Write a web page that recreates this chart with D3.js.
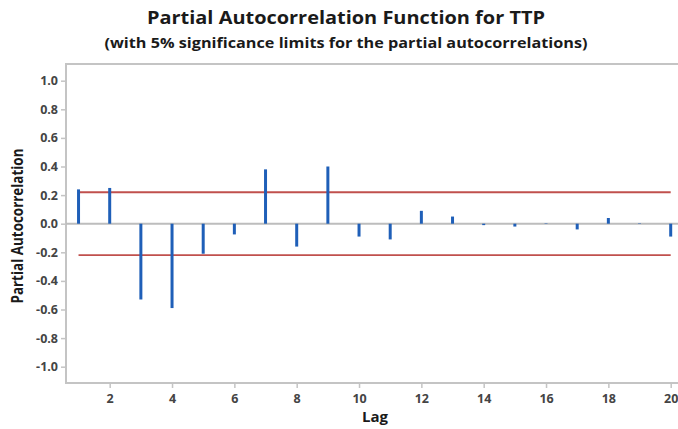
<!DOCTYPE html>
<html>
<head>
<meta charset="utf-8">
<script src="https://cdn.jsdelivr.net/npm/d3@7"></script>
<style>
  html, body { margin: 0; padding: 0; background: #fff; }
  svg { display: block; font-family: "Open Sans", "Noto Sans", sans-serif; }
</style>
</head>
<body>
<svg id="chart" width="678" height="429"></svg>
<script>
// Partial autocorrelations by lag
const lags = d3.range(1, 21);
const pacf = [0.24, 0.25, -0.53, -0.59, -0.21, -0.075, 0.38, -0.16, 0.40, -0.09,
              -0.11, 0.09, 0.05, -0.01, -0.02, 0.003, -0.04, 0.04, 0.003, -0.09];
const limit = 0.22;
const yTicks = [1.0, 0.8, 0.6, 0.4, 0.2, 0.0, -0.2, -0.4, -0.6, -0.8, -1.0];
const xTicks = [2, 4, 6, 8, 10, 12, 14, 16, 18, 20];

const svg = d3.select("#chart");
const frame = { left: 66, top: 64, right: 690, bottom: 383 };

const x = d3.scaleLinear().domain([2, 20]).range([109.7, 670.7]);
const y = d3.scaleLinear().domain([-1, 1]).range([366.7, 80.7]);

// Titles
svg.append("text")
  .attr("x", 346).attr("y", 24)
  .attr("text-anchor", "middle")
  .attr("font-size", 17.5).attr("font-weight", 700).attr("fill", "#1a1a1a")
  .attr("textLength", 398).attr("lengthAdjust", "spacingAndGlyphs")
  .text("Partial Autocorrelation Function for TTP");
svg.append("text")
  .attr("x", 346).attr("y", 48)
  .attr("text-anchor", "middle")
  .attr("font-size", 13.5).attr("font-weight", 700).attr("fill", "#1a1a1a")
  .attr("textLength", 483).attr("lengthAdjust", "spacingAndGlyphs")
  .text("(with 5% significance limits for the partial autocorrelations)");

// Plot frame
const frameColor = "#c4c4c4";
svg.append("rect")
  .attr("x", frame.left).attr("y", frame.top)
  .attr("width", frame.right - frame.left).attr("height", frame.bottom - frame.top)
  .attr("fill", "none").attr("stroke", frameColor).attr("stroke-width", 2);

// Y axis ticks
const yAxis = d3.axisLeft(y).tickValues(yTicks).tickFormat(d3.format(".1f")).tickSize(5).tickPadding(3);
const gy = svg.append("g").attr("transform", `translate(${frame.left},0)`).call(yAxis);
gy.select(".domain").remove();
gy.selectAll(".tick line").attr("stroke", frameColor).attr("stroke-width", 1.5);
gy.selectAll(".tick text")
  .attr("font-size", 12.5).attr("font-weight", 700).attr("fill", "#444")
  .attr("font-family", "\"Open Sans\", sans-serif")
  .text(d => d3.format(".1f")(d).replace("−", "-"));

// X axis ticks
const xAxis = d3.axisBottom(x).tickValues(xTicks).tickFormat(d3.format("d")).tickSize(5).tickPadding(6);
const gx = svg.append("g").attr("transform", `translate(0,${frame.bottom})`).call(xAxis);
gx.select(".domain").remove();
gx.selectAll(".tick line").attr("stroke", frameColor).attr("stroke-width", 1.5);
gx.selectAll(".tick text")
  .attr("font-size", 12.5).attr("font-weight", 700).attr("fill", "#444")
  .attr("font-family", "\"Open Sans\", sans-serif");

// Axis titles
svg.append("text")
  .attr("transform", `translate(23,226) rotate(-90)`)
  .attr("text-anchor", "middle")
  .attr("font-size", 16.5).attr("font-weight", 700).attr("fill", "#1a1a1a")
  .attr("textLength", 155).attr("lengthAdjust", "spacingAndGlyphs")
  .text("Partial Autocorrelation");
svg.append("text")
  .attr("x", 375).attr("y", 422)
  .attr("text-anchor", "middle")
  .attr("font-size", 15).attr("font-weight", 700).attr("fill", "#1a1a1a")
  .text("Lag");

// Zero reference line
svg.append("line")
  .attr("x1", frame.left).attr("x2", 678)
  .attr("y1", y(0)).attr("y2", y(0))
  .attr("stroke", "#bdbdbd").attr("stroke-width", 2);

// Significance limits
[limit, -limit].forEach(v => {
  svg.append("line")
    .attr("x1", x(1)).attr("x2", x(20))
    .attr("y1", y(v)).attr("y2", y(v))
    .attr("stroke", "#c0504d").attr("stroke-width", 1.8);
});

// PACF spikes
svg.append("g").selectAll("line")
  .data(lags.map((l, i) => ({ lag: l, v: pacf[i] })))
  .join("line")
  .attr("x1", d => x(d.lag)).attr("x2", d => x(d.lag))
  .attr("y1", y(0)).attr("y2", d => y(d.v))
  .attr("stroke", "#1f5fb8").attr("stroke-width", 3);
</script>
</body>
</html>
